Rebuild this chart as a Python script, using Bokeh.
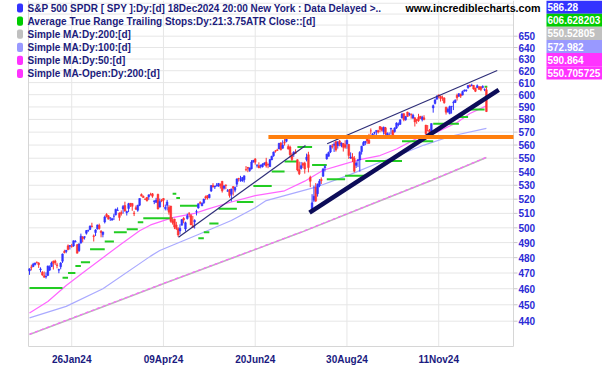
import math
from bokeh.plotting import figure
from bokeh.models import Range1d, LogScale, Label, BoxAnnotation, ColumnDataSource
from bokeh.embed import file_html
from bokeh.resources import INLINE

# ---------------- data ----------------
# trading days 21 Dec 2023 .. 18 Dec 2024, one value per day (index 0..249)
opens = [
471.33, 473.86, 474.07, 475.44, 476.88, 476.49,
472.16, 470.43, 468.30, 467.49, 468.43, 471.87, 474.16, 477.59, 477.84, 475.26, 471.82, 474.01, 477.65, 484.01, 484.01, 487.81, 487.58, 487.59, 487.73, 490.56, 488.62,
484.63, 489.65, 493.70, 493.52, 496.29, 498.10, 498.84, 501.17, 494.53, 496.79, 499.29, 501.70, 497.72, 495.42, 504.01, 509.27, 508.30, 506.70, 505.33, 508.07,
508.98, 512.03, 510.24, 510.55, 513.14, 515.46, 510.48, 513.45, 517.11, 516.97, 510.21, 514.00, 512.15, 515.77, 523.39, 522.11, 519.80, 521.23, 521.71, 523.21,
523.83, 518.24, 517.72, 523.52, 514.46, 519.15, 520.50, 513.48, 515.68, 514.37, 515.13, 504.94, 506.05, 501.98, 499.44, 497.83, 501.78, 506.56, 499.18, 506.35, 510.09, 508.56,
501.38, 504.15, 511.16, 513.75, 517.56, 515.26, 517.38, 521.81, 522.56, 521.11, 525.83, 529.88, 528.81, 529.57, 529.28, 530.65, 532.96, 527.85, 530.27, 525.68, 526.79, 523.59,
529.02, 526.46, 530.77, 534.98, 533.66, 533.18, 534.07, 541.63, 543.15, 540.88, 542.08, 547.16, 549.44, 544.40, 544.33, 543.99, 543.69, 545.37, 547.16,
545.63, 543.70, 548.69, 551.77, 555.44, 556.26, 557.07, 561.44, 557.63, 562.03, 562.87, 558.80, 558.51, 552.42, 553.00, 554.54, 548.86, 541.35, 542.28, 546.02, 546.26, 548.98,
552.57, 535.75, 511.64, 519.22, 528.47, 523.91, 529.81, 534.21, 536.53, 542.85, 549.50, 551.42, 554.73, 559.15, 559.77, 562.56, 559.53, 563.18, 559.49, 561.21, 560.31, 560.77,
560.47, 550.20, 550.89, 549.94, 544.65, 548.36, 548.70, 555.01, 559.71, 561.74, 565.10, 563.74, 571.01, 567.84, 569.34, 570.48, 571.14, 574.38, 573.39, 570.42,
573.40, 567.71, 567.36, 572.35, 571.30, 570.42, 573.16, 575.77, 576.05, 581.22, 584.59, 579.78, 585.91, 584.07, 583.85, 581.05, 581.26, 579.98, 581.51, 582.58, 579.85, 581.29, 575.56,
571.32, 571.18, 570.74, 589.20, 592.80, 596.17, 599.81, 598.68, 597.37, 597.32, 589.72, 586.22, 584.71, 590.38, 593.40, 593.66, 599.52, 598.80, 600.46, 599.66,
602.97, 603.39, 605.63, 607.66, 607.44, 607.69, 605.37, 605.78, 606.58, 606.40, 606.00, 604.19, 604.00,
]
highs = [
472.98, 475.38, 476.58, 476.66, 477.55, 477.03,
473.67, 471.19, 470.96, 470.44, 474.75, 474.93, 477.45, 478.12, 478.60, 476.61, 472.79, 477.06, 482.72, 485.22, 485.11, 488.77, 488.31, 489.12, 491.42, 491.62, 489.08,
489.23, 496.05, 494.38, 494.32, 498.53, 498.71, 501.65, 503.50, 495.48, 499.07, 502.20, 502.87, 498.41, 497.37, 508.49, 510.13, 508.75, 507.16, 506.86, 509.74,
513.29, 514.20, 510.70, 512.07, 515.89, 518.22, 511.88, 517.38, 517.29, 517.13, 511.70, 515.48, 516.00, 520.62, 524.11, 522.61, 520.95, 521.58, 523.21, 524.61,
524.38, 518.98, 520.95, 523.87, 520.44, 520.18, 520.75, 516.16, 519.48, 515.82, 515.30, 506.50, 506.22, 504.13, 500.46, 502.38, 506.09, 507.37, 504.27, 509.88, 510.75, 509.56,
508.19, 505.89, 512.55, 516.90, 518.57, 517.74, 520.21, 522.64, 522.67, 523.83, 530.08, 531.52, 529.52, 531.56, 531.52, 531.38, 533.07, 530.27, 530.51, 527.31, 527.30, 527.50,
529.31, 529.15, 534.69, 535.42, 536.89, 535.99, 537.01, 544.12, 543.33, 542.81, 548.53, 548.62, 550.12, 545.65, 546.95, 545.20, 546.24, 546.96, 550.28,
545.88, 549.20, 551.83, 555.05, 556.25, 557.18, 561.67, 562.33, 563.67, 564.84, 565.16, 560.51, 559.52, 554.08, 555.27, 556.74, 549.17, 547.46, 547.19, 547.05, 547.34, 553.50,
554.87, 536.99, 523.58, 529.75, 531.59, 531.29, 534.51, 535.73, 542.28, 544.96, 553.36, 555.02, 559.70, 560.84, 562.11, 563.18, 563.09, 563.91, 562.06, 561.65, 563.68, 564.20,
560.81, 554.43, 553.80, 551.60, 547.71, 549.15, 555.36, 559.40, 563.03, 563.11, 566.58, 568.69, 572.88, 569.31, 570.33, 571.36, 571.89, 574.71, 574.22, 574.38,
574.06, 569.90, 569.80, 573.36, 571.96, 573.78, 577.71, 577.58, 580.33, 585.27, 584.90, 582.83, 586.12, 585.39, 584.85, 584.50, 581.71, 580.06, 584.46, 582.71, 582.91, 583.32, 575.63,
575.55, 572.50, 576.74, 591.93, 596.65, 599.64, 600.17, 599.29, 599.23, 597.81, 590.20, 589.49, 591.04, 590.79, 595.12, 596.15, 600.86, 601.33, 600.85, 603.35,
604.32, 604.16, 607.91, 608.48, 609.07, 607.86, 605.80, 608.43, 607.16, 607.16, 607.78, 605.17, 606.40,
]
lows = [
468.84, 471.70, 473.99, 474.89, 476.26, 473.30,
470.49, 468.17, 467.05, 466.43, 468.30, 471.35, 473.87, 472.26, 475.23, 473.06, 469.87, 472.42, 476.54, 482.78, 482.89, 484.88, 485.39, 486.54, 487.17, 490.11, 482.86,
483.80, 489.30, 490.23, 492.05, 495.36, 497.26, 498.49, 500.24, 490.72, 494.40, 498.80, 498.75, 493.55, 493.56, 503.02, 507.10, 505.86, 504.75, 504.96, 505.35,
508.56, 512.00, 504.91, 508.42, 509.81, 511.13, 508.50, 510.86, 514.49, 511.82, 508.12, 512.44, 511.12, 515.08, 521.91, 520.97, 519.61, 518.40, 519.49, 522.78,
520.97, 516.48, 517.67, 512.76, 514.01, 517.89, 514.35, 512.09, 512.08, 509.08, 503.58, 502.21, 499.12, 498.56, 493.86, 495.43, 501.70, 503.13, 497.49, 505.70, 507.25, 501.98,
499.87, 499.55, 508.56, 513.30, 516.45, 515.14, 516.71, 519.59, 519.74, 520.56, 525.18, 528.54, 527.32, 529.17, 529.07, 527.60, 524.72, 526.88, 527.11, 525.37, 521.11, 518.36,
522.60, 524.96, 528.73, 532.68, 532.54, 532.57, 532.05, 540.30, 539.59, 539.85, 541.61, 546.73, 545.18, 543.02, 542.62, 542.44, 543.03, 544.61, 542.95,
542.52, 543.65, 548.65, 551.12, 554.19, 555.52, 556.77, 555.83, 557.15, 559.63, 562.10, 556.61, 550.43, 547.91, 551.02, 553.28, 540.29, 537.45, 541.49, 542.72, 538.52, 547.58,
539.43, 528.60, 510.27, 517.87, 518.05, 521.84, 528.56, 530.95, 536.28, 540.12, 548.88, 551.26, 553.86, 557.33, 554.73, 554.98, 557.29, 559.05, 558.32, 555.04, 557.18, 557.14,
549.51, 549.46, 547.10, 539.44, 542.68, 543.38, 539.96, 552.74, 559.45, 559.90, 560.79, 560.83, 568.08, 565.17, 568.10, 567.60, 568.91, 569.90, 570.42, 568.08,
566.00, 565.27, 565.49, 568.10, 566.63, 569.53, 572.55, 574.49, 575.91, 580.73, 578.54, 578.96, 582.16, 582.58, 580.60, 580.38, 574.42, 576.57, 578.08, 580.52, 578.43, 579.29, 568.44,
570.62, 567.89, 570.52, 585.39, 592.00, 596.17, 597.00, 594.37, 594.96, 592.65, 583.86, 585.34, 584.03, 584.63, 587.45, 593.15, 595.20, 598.07, 597.28, 599.38,
602.47, 602.34, 604.95, 606.30, 607.02, 604.08, 602.13, 605.50, 604.30, 602.84, 605.21, 602.89, 585.89,
]
closes = [
472.70, 473.65, 475.65, 476.51, 476.69, 475.31,
472.65, 468.79, 467.28, 467.92, 474.60, 473.88, 476.56, 476.35, 476.68, 474.93, 472.29, 476.49, 482.43, 483.45, 484.86, 485.39, 488.03, 487.41, 491.27, 490.89, 482.88,
489.20, 494.35, 492.55, 493.98, 498.10, 498.32, 501.20, 500.98, 494.08, 498.57, 502.01, 499.51, 496.76, 497.21, 507.50, 507.85, 505.99, 506.93, 506.26, 508.08,
512.85, 512.30, 507.18, 509.75, 514.81, 511.72, 511.28, 516.78, 515.97, 514.95, 509.83, 512.86, 515.71, 520.48, 522.20, 521.21, 519.77, 518.81, 523.17, 523.07,
522.16, 518.84, 519.41, 513.07, 518.43, 518.72, 519.32, 514.12, 518.00, 510.85, 504.45, 503.53, 500.55, 499.52, 495.16, 499.72, 505.65, 505.41, 503.49, 508.26, 510.06, 501.98,
500.35, 505.03, 511.29, 516.78, 517.14, 517.19, 520.17, 520.84, 520.91, 523.30, 529.78, 528.69, 529.45, 530.06, 531.36, 529.83, 525.96, 529.44, 529.81, 526.10, 522.61, 527.37,
527.80, 528.39, 534.67, 534.66, 534.01, 535.66, 536.95, 541.36, 542.45, 542.78, 547.10, 548.49, 547.00, 544.51, 542.74, 544.83, 545.51, 546.37, 544.22,
545.34, 549.01, 551.46, 554.64, 555.28, 555.82, 561.32, 556.48, 559.99, 561.53, 564.86, 556.94, 552.66, 548.99, 554.65, 553.78, 541.23, 538.41, 544.44, 544.76, 542.00, 550.81,
543.01, 532.90, 517.38, 522.15, 518.66, 530.65, 532.99, 533.27, 542.04, 543.75, 553.07, 554.31, 559.61, 558.70, 560.62, 556.22, 562.13, 560.79, 561.56, 558.30, 558.35, 563.68,
552.08, 550.95, 549.61, 540.36, 546.41, 548.79, 554.42, 559.09, 562.01, 562.84, 563.07, 561.40, 570.98, 568.25, 569.67, 571.30, 570.04, 572.30, 571.47, 573.76,
568.62, 568.86, 567.82, 572.98, 567.80, 573.17, 577.14, 576.13, 579.58, 584.32, 579.78, 582.30, 582.35, 584.59, 583.63, 583.32, 577.99, 579.24, 579.04, 580.83, 581.77, 580.01, 568.64,
571.04, 569.81, 576.70, 591.04, 595.61, 598.19, 598.76, 596.90, 597.19, 593.35, 585.75, 588.15, 590.30, 590.50, 593.67, 595.51, 597.53, 600.65, 598.83, 602.55,
603.63, 603.91, 607.66, 606.66, 607.81, 604.68, 602.80, 607.46, 604.33, 604.21, 606.79, 604.29, 586.28,
]

# moving averages (day index, value)
ma50_idx = [0, 10, 20, 30, 40, 50, 60, 66, 78, 90, 97, 110, 123, 139, 150, 160, 170, 180, 191, 200, 213, 222, 233, 240, 249]
ma50_val = [445, 452, 462, 471, 480, 489, 498, 502, 507, 510, 513, 518, 522.5, 526, 533, 541, 545, 549, 552, 557, 566.5, 570, 577.6, 584.7, 590.864]
ma100_idx = [0, 20, 40, 66, 71, 93, 110, 123, 129, 156, 175, 191, 197, 215, 230, 249]
ma100_val = [442, 449, 460, 481, 484.7, 496, 505, 514, 519, 528.6, 538, 547, 550, 560, 567, 572.982]
ma200_idx = [0, 39, 74, 115, 148, 186, 219, 249]
ma200_val = [432.0, 448.4, 463.6, 481.7, 496.9, 516.2, 533.5, 550.52805]
ma200o_val = [432.2, 448.6, 463.8, 481.9, 497.1, 516.4, 533.7, 550.705725]

# ATR trailing stop steps: (start day, end day, level)
atr_start = [0, 18, 21, 25, 28, 33, 41, 46, 53, 59, 62, 78, 80, 82, 92, 95, 98, 103, 113, 122, 132, 139, 146, 154, 162, 172, 183, 203, 220, 234, 239, 248]
atr_end   = [18, 21, 25, 28, 33, 41, 46, 53, 59, 62, 78, 80, 82, 92, 95, 98, 103, 113, 122, 132, 139, 146, 154, 162, 172, 183, 203, 220, 234, 239, 248, 249.5]
atr_level = [460.5, 467, 470, 474.6, 477, 485.6, 490.7, 497, 499, 503.8, 506.6, 523.8, 520.9, 515.3, 493, 497, 503, 513.3, 518, 529.4, 540, 547.5, 558.5, 545, 534.3, 537, 548, 563, 576.6, 582, 588, 606.628203]

# drawn trend lines (day index, price)
thin1_x, thin1_y = [81.2, 150.4], [493.6, 559.7]
thin2_x, thin2_y = [162.2, 254.9], [561.0, 620.2]
thick_x, thick_y = [152.6, 255.7], [510.5, 604.0]
orange_x0, orange_level = 130.2, 566.3

price_ticks = list(range(440, 651, 10))
grid_prices = list(range(440, 681, 10))
date_ticks = [23, 73, 123, 173, 223]
date_labels = ["26Jan24", "09Apr24", "20Jun24", "30Aug24", "11Nov24"]

legend_texts = [
    "S&P 500 SPDR [ SPY ]:Dy:[d]  18Dec2024 20:00 New York : Data Delayed >..",
    "Average True Range Trailing Stops:Dy:21:3.75ATR Close::[d]",
    "Simple MA:Dy:200:[d]",
    "Simple MA:Dy:100:[d]",
    "Simple MA:Dy:50:[d]",
    "Simple MA-Open:Dy:200:[d]",
]
legend_colors = ["#3333ff", "#00cc00", "#c0c0c0", "#9999ff", "#ff33ff", "#ff33ff"]
value_texts = ["586.28", "606.628203", "550.52805", "572.982", "590.864", "550.705725"]

# ---------------- layout ----------------
W, H = 602, 365
XA, XB = 29.0, 1.835                  # pixel x = XA + XB * day
YA, YK, YP = 35.7, 730.4, 650.0       # pixel y = YA + YK * ln(YP / price)

def day_at(px):
    return (px - XA) / XB

def price_at(py):
    return YP * math.exp(-(py - YA) / YK)

def sx(px):
    return px

def sy(py):
    return H - py

p = figure(width=W, height=H, output_backend="svg", toolbar_location=None,
           x_axis_location=None, y_axis_location=None,
           x_range=Range1d(day_at(0), day_at(W)), y_range=Range1d(price_at(H), price_at(0)),
           min_border=0)
p.y_scale = LogScale()
p.outline_line_color = None
p.background_fill_color = "white"
p.border_fill_color = "white"
p.grid.visible = False

x_left, x_right = day_at(28), day_at(513)
y_bottom, y_top = price_at(346), price_at(0)
frame_col = "#d6d6d6"
grid_col = "#e6e6e6"

# grid
p.segment(x0=[x_left] * len(grid_prices), x1=[x_right] * len(grid_prices), y0=grid_prices, y1=grid_prices,
          line_color=grid_col, line_width=1)
p.segment(x0=date_ticks, x1=date_ticks, y0=[y_bottom] * len(date_ticks), y1=[y_top] * len(date_ticks),
          line_color=grid_col, line_width=1)
# frame borders
p.segment(x0=[x_left, x_right, x_left], x1=[x_left, x_right, x_right],
          y0=[y_bottom, y_bottom, y_bottom], y1=[y_top, y_top, y_bottom],
          line_color=frame_col, line_width=1)
# y tick marks
p.segment(x0=[x_right] * len(price_ticks), x1=[day_at(517)] * len(price_ticks), y0=price_ticks, y1=price_ticks,
          line_color="#c8c8c8", line_width=1)

idx = list(range(len(closes)))

# moving averages
p.line(ma200_idx, ma200_val, line_color="#b8b8b8", line_width=1.6)
p.line(ma200_idx, ma200o_val, line_color="#ff66ff", line_width=1.3, line_dash="3 3")
p.line(ma100_idx, ma100_val, line_color="#aaaaff", line_width=1.2)
p.line(ma50_idx, ma50_val, line_color="#ff66ff", line_width=1.2)

# ATR trailing stop
p.segment(x0=atr_start, y0=atr_level, x1=atr_end, y1=atr_level, line_color="#22cc22", line_width=2)

# candles
up_col, dn_col = "#3333ff", "#ff3333"
colors = [up_col if c >= o else dn_col for o, c in zip(opens, closes)]
src = ColumnDataSource(dict(x=idx, o=opens, h=highs, l=lows, c=closes,
                            top=[max(o, c) for o, c in zip(opens, closes)],
                            bot=[min(o, c) for o, c in zip(opens, closes)],
                            col=colors))
p.segment(x0="x", y0="l", x1="x", y1="h", line_color="col", line_width=1, source=src)
p.vbar(x="x", width=0.95, top="top", bottom="bot", fill_color="col", line_color="col", line_width=0.5, source=src)

# trend lines
p.line(thin1_x, thin1_y, line_color="#2e2e78", line_width=1.2)
p.line(thin2_x, thin2_y, line_color="#2e2e78", line_width=1.2)
p.line(thick_x, thick_y, line_color="#0c0c58", line_width=4.5)
p.line([orange_x0, x_right], [orange_level, orange_level], line_color="#ff7f0e", line_width=4)

# ---------------- axis labels ----------------
for t in price_ticks:
    p.add_layout(Label(x=sx(518), y=t, x_units="screen", y_units="data", text=str(t),
                       text_font="Liberation Sans", text_font_style="bold", text_font_size="10px",
                       text_color="#2b2bd6", text_baseline="middle", text_align="left"))
for t, lab in zip(date_ticks, date_labels):
    p.add_layout(Label(x=t, y=sy(359), x_units="data", y_units="screen", text=lab,
                       text_font="Liberation Sans", text_font_style="bold", text_font_size="10px",
                       text_color="#1a1a80", text_baseline="middle", text_align="center"))

# ---------------- legend & value boxes ----------------
row_y = [7.5 + 13.1 * i for i in range(6)]
for t, c, yc in zip(legend_texts, legend_colors, row_y):
    p.add_layout(BoxAnnotation(left=sx(16.5), right=sx(22.5), top=sy(yc - 4.6), bottom=sy(yc + 4.6),
                               left_units="screen", right_units="screen", top_units="screen", bottom_units="screen",
                               fill_color=c, fill_alpha=1, line_color=None, border_radius=2))
    p.add_layout(Label(x=sx(27), y=sy(yc), x_units="screen", y_units="screen", text=t,
                       text_font="Liberation Sans", text_font_style="bold", text_font_size="10px",
                       text_color="#1c1c7c", text_baseline="middle", text_align="left"))

p.add_layout(Label(x=sx(405), y=sy(7.3), x_units="screen", y_units="screen", text="www.incrediblecharts.com",
                   text_font="Liberation Sans", text_font_style="bold", text_font_size="10.7px",
                   text_color="black", text_baseline="middle", text_align="left"))

for i, (t, c) in enumerate(zip(value_texts, legend_colors)):
    top, bot = 13.15 * i, 13.15 * (i + 1)
    p.add_layout(BoxAnnotation(left=sx(546), right=sx(W), top=sy(top), bottom=sy(bot),
                               left_units="screen", right_units="screen", top_units="screen", bottom_units="screen",
                               fill_color=c, fill_alpha=1, line_color=None))
    p.add_layout(Label(x=sx(547), y=sy((top + bot) / 2), x_units="screen", y_units="screen", text=t,
                       text_font="Liberation Sans", text_font_style="bold", text_font_size="10px",
                       text_color="white", text_baseline="middle", text_align="left"))

open("out.html", "w").write(file_html(p, INLINE))
